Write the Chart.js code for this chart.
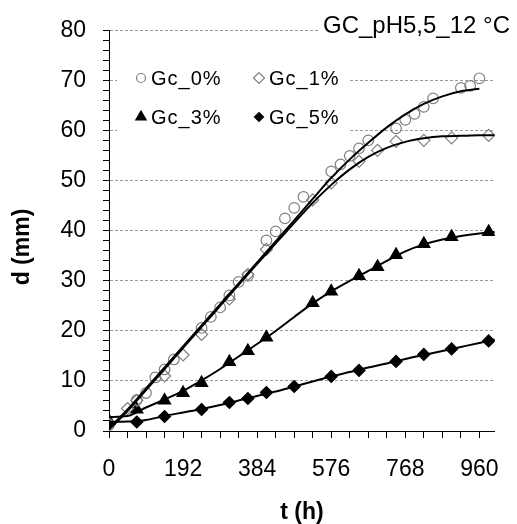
<!DOCTYPE html>
<html>
<head>
<meta charset="utf-8">
<title>GC_pH5,5_12 °C</title>
<script src="https://cdn.jsdelivr.net/npm/chart.js@4.4.1/dist/chart.umd.min.js"></script>
<style>
  html, body { margin: 0; padding: 0; background: #fff; }
  #wrap { width: 517px; height: 524px; }
</style>
</head>
<body>
<div id="wrap"><canvas id="chart" width="517" height="524"></canvas></div>
<script>
const t0 = [0, 72, 96, 120, 144, 168, 240, 264, 288, 312, 336, 360, 408, 432, 456, 480, 504, 576, 600, 624, 648, 672, 744, 768, 792, 816, 840, 912, 936, 960];
const gc0 = [1.2, 6.2, 7.6, 10.7, 12.3, 14.3, 20.6, 22.8, 24.7, 27.1, 29.8, 31.0, 38.1, 39.9, 42.5, 44.6, 46.8, 51.9, 53.3, 55.0, 56.5, 58.1, 60.5, 62.2, 63.4, 64.8, 66.5, 68.6, 69.0, 70.5];

const t1 = [0, 48, 72, 144, 192, 240, 312, 360, 408, 528, 576, 648, 696, 744, 816, 888, 984];
const gc1 = [1.5, 4.5, 6.1, 11.0, 15.2, 19.3, 26.4, 31.3, 36.3, 46.2, 49.6, 53.9, 56.1, 57.9, 58.1, 58.6, 59.1];

const t3 = [0, 72, 144, 192, 240, 312, 360, 408, 528, 576, 648, 696, 744, 816, 888, 984];
const gc3 = [2.0, 4.3, 6.1, 7.6, 9.6, 13.8, 16.0, 18.7, 25.6, 27.9, 31.0, 32.8, 35.2, 37.4, 38.8, 39.8];

const t5 = [0, 72, 144, 240, 312, 360, 408, 480, 576, 648, 744, 816, 888, 984];
const gc5 = [1.5, 1.8, 2.9, 4.3, 5.7, 6.5, 7.7, 8.9, 10.9, 12.1, 13.9, 15.3, 16.4, 18.0];

// Fitted curves, also
const fitT0 = [0, 48, 96, 144, 192, 240, 288, 336, 384, 432, 480, 528, 576, 624, 672, 720, 768, 816, 864, 912, 960];
const fit0 = [0.5, 4.3, 8.5, 12.7, 16.9, 21.1, 25.3, 29.5, 33.7, 37.9, 42.1, 46.4, 50.6, 54.3, 57.6, 60.7, 63.3, 65.4, 66.9, 67.9, 68.4];

const fitT = [0, 48, 96, 144, 192, 240, 288, 336, 384, 432, 480, 528, 576, 624, 672, 720, 768, 816, 864, 912, 960, 1000];
const fit1 = [0.3, 4.0, 8.2, 12.4, 16.6, 20.8, 25.0, 29.2, 33.4, 37.5, 41.6, 45.6, 49.2, 52.3, 54.8, 56.6, 57.8, 58.5, 58.9, 59.0, 59.1, 59.1];
const fit3 = [2.8, 3.0, 4.7, 6.3, 8.0, 10.1, 12.4, 14.9, 17.4, 20.0, 22.8, 25.5, 27.9, 30.0, 32.0, 34.0, 35.9, 37.3, 38.3, 39.0, 39.5, 39.8];
const fit5 = [1.8, 1.9, 2.2, 3.0, 3.7, 4.4, 5.2, 6.1, 7.0, 7.9, 8.9, 9.9, 10.9, 11.8, 12.7, 13.5, 14.4, 15.2, 16.0, 16.8, 17.6, 18.3];

const labels = ['Gc_0%', 'Gc_1%', 'Gc_3%', 'Gc_5%'];
const chartTitle = 'GC_pH5,5_12 °C';

const FONT = "Arial, 'Liberation Sans', sans-serif";
const GREY = '#808080';

const pts = (xs, ys) => xs.map((x, i) => ({ x: x, y: ys[i] }));

const fitLine = (xs, ys) => ({
    data: pts(xs, ys),
    borderColor: '#000',
    borderWidth: 2,
    pointRadius: 0,
    fill: false,
    cubicInterpolationMode: 'monotone',
    order: 0
});

const markers = (label, xs, ys, style, r, fillCol, strokeCol) => ({
    label: label,
    data: pts(xs, ys),
    showLine: false,
    pointStyle: style,
    pointRadius: r,
    pointBackgroundColor: fillCol,
    pointBorderColor: strokeCol,
    pointBorderWidth: 1.2,
    order: 1
});

// legend marker drawing (same shapes as Chart.js point styles)
function drawMarker(ctx, style, x, y, r, fillCol, strokeCol) {
    ctx.beginPath();
    if (style === 'circle') {
        ctx.arc(x, y, r, 0, Math.PI * 2);
    } else if (style === 'rectRot') {
        ctx.moveTo(x - r, y); ctx.lineTo(x, y - r); ctx.lineTo(x + r, y); ctx.lineTo(x, y + r);
        ctx.closePath();
    } else if (style === 'triangle') {
        ctx.moveTo(x, y - r);
        ctx.lineTo(x + r * 0.866, y + r * 0.5);
        ctx.lineTo(x - r * 0.866, y + r * 0.5);
        ctx.closePath();
    }
    if (fillCol !== 'transparent') { ctx.fillStyle = fillCol; ctx.fill(); }
    ctx.lineWidth = 1.2; ctx.strokeStyle = strokeCol; ctx.stroke();
}

const overlay = {
    id: 'overlay',
    beforeDatasetsDraw(chart) {
        const ctx = chart.ctx;
        ctx.save();
        // white boxes behind legend and title
        ctx.fillStyle = '#fff';
        ctx.fillRect(117, 42, 233, 100);
        ctx.fillRect(320, 8, 197, 32);

        // title
        ctx.fillStyle = '#000';
        ctx.font = '24px ' + FONT;
        ctx.textAlign = 'right';
        ctx.textBaseline = 'alphabetic';
        ctx.fillText(chartTitle, 510, 33);

        // legend, two columns
        const items = [
            { x: 141, y: 78, style: 'circle', r: 4.5, fill: 'transparent', stroke: GREY },
            { x: 259, y: 78, style: 'rectRot', r: 5.5, fill: 'transparent', stroke: GREY },
            { x: 141, y: 117, style: 'triangle', r: 6, fill: '#000', stroke: '#000' },
            { x: 259, y: 117, style: 'rectRot', r: 4.5, fill: '#000', stroke: '#000' }
        ];
        ctx.font = '20px ' + FONT;
        ctx.textAlign = 'left';
        ctx.textBaseline = 'middle';
        ctx.letterSpacing = '1px';
        items.forEach((it, i) => {
            drawMarker(ctx, it.style, it.x, it.y, it.r, it.fill, it.stroke);
            ctx.fillStyle = '#000';
            ctx.fillText(labels[i], it.x + 10, it.y + 1);
        });
        ctx.letterSpacing = '0px';

        // y axis title
        ctx.font = 'bold 23px ' + FONT;
        ctx.translate(23, 247);
        ctx.rotate(-Math.PI / 2);
        ctx.textAlign = 'center';
        ctx.fillText('d (mm)', 0, 0);
        ctx.restore();
    }
};

new Chart(document.getElementById('chart'), {
    type: 'line',
    data: {
        datasets: [
            fitLine(fitT0, fit0),
            fitLine(fitT, fit1),
            fitLine(fitT, fit3),
            fitLine(fitT, fit5),
            markers(labels[0], t0, gc0, 'circle', 5.3, 'rgba(255,255,255,0)', GREY),
            markers(labels[1], t1, gc1, 'rectRot', 6, 'rgba(255,255,255,0)', GREY),
            markers(labels[2], t3, gc3, 'triangle', 7, '#000', '#000'),
            markers(labels[3], t5, gc5, 'rectRot', 6, '#000', '#000')
        ]
    },
    options: {
        responsive: false,
        animation: false,
        events: [],
        layout: { padding: { top: 24, right: 11, left: 0, bottom: 0 } },
        plugins: {
            legend: { display: false },
            tooltip: { enabled: false }
        },
        scales: {
            x: {
                type: 'linear',
                min: 0,
                max: 1000,
                afterFit: (s) => { s.height = 93; },
                grid: {
                    drawOnChartArea: false,
                    tickLength: 7,
                    tickColor: '#000'
                },
                border: { color: '#000', width: 1 },
                ticks: {
                    stepSize: 48,
                    includeBounds: false,
                    autoSkip: false,
                    maxRotation: 0,
                    padding: 18,
                    color: '#000',
                    font: { family: FONT, size: 23 },
                    callback: (v) => (v % 192 === 0 ? String(v) : '')
                },
                title: {
                    display: true,
                    text: 't (h)',
                    color: '#000',
                    padding: 0,
                    font: { family: FONT, size: 23, weight: 'bold', lineHeight: 1 }
                }
            },
            y: {
                min: 0,
                max: 80,
                afterFit: (s) => { s.width = 109; },
                grid: {
                    color: (c) => (c.tick && c.tick.value % 10 === 0 && c.tick.value > 0 ? '#9a9a9a' : 'rgba(0,0,0,0)'),
                    tickLength: 6,
                    tickColor: '#000'
                },
                border: { color: '#000', width: 1, dash: [3, 2] },
                ticks: {
                    stepSize: 2,
                    autoSkip: false,
                    padding: 17,
                    color: '#000',
                    font: { family: FONT, size: 23 },
                    callback: (v) => (v % 10 === 0 ? String(v) : '')
                }
            }
        }
    },
    plugins: [overlay]
});
</script>
</body>
</html>
